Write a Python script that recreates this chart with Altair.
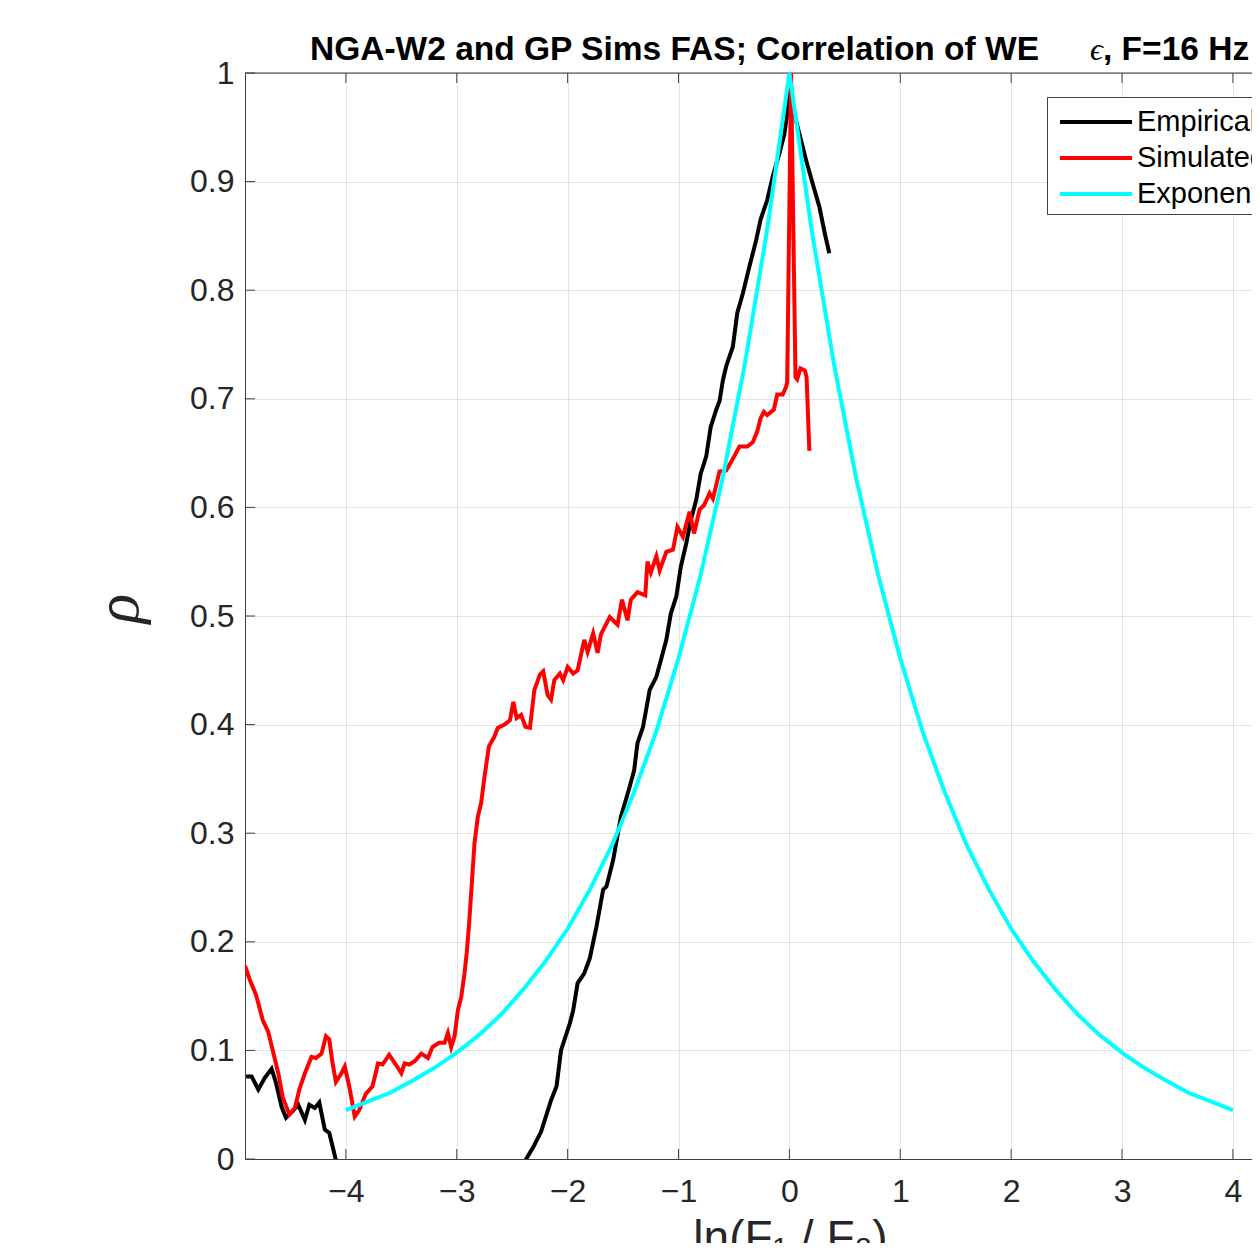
import altair as alt
import pandas as pd

# ---------------- data ----------------
series_names = ["Empirical", "Simulated", "Exponential"]
series_colors = ["#000000", "#ff0000", "#00ffff"]

emp_x = [-4.90, -4.85, -4.79, -4.73, -4.67, -4.63, -4.58, -4.54, -4.48, -4.43,
         -4.37, -4.33, -4.28, -4.24, -4.19, -4.15, -4.09, -4.00, -3.60, -3.20,
         -2.80, -2.50, -2.374, -2.31, -2.24, -2.15, -2.10, -2.06, -1.98, -1.95,
         -1.91, -1.85, -1.80, -1.74, -1.68, -1.65, -1.59, -1.52, -1.44, -1.40,
         -1.37, -1.32, -1.26, -1.20, -1.16, -1.11, -1.07, -1.02, -0.98, -0.93,
         -0.89, -0.84, -0.80, -0.75, -0.71, -0.66, -0.63, -0.60, -0.57, -0.51,
         -0.47, -0.42, -0.36, -0.30, -0.26, -0.20, -0.15, -0.09, -0.045, -0.015,
         0.0, 0.045, 0.09, 0.15, 0.21, 0.27, 0.32, 0.36]
emp_y = [0.076, 0.076, 0.064, 0.075, 0.083, 0.070, 0.048, 0.038, 0.044, 0.050,
         0.036, 0.050, 0.047, 0.052, 0.027, 0.024, -0.001, -0.030, -0.060, -0.050,
         -0.040, -0.020, 0.000, 0.011, 0.025, 0.054, 0.067, 0.100, 0.125, 0.137,
         0.162, 0.171, 0.185, 0.214, 0.248, 0.251, 0.275, 0.315, 0.343, 0.358,
         0.383, 0.398, 0.432, 0.444, 0.459, 0.478, 0.502, 0.518, 0.545, 0.567,
         0.588, 0.607, 0.631, 0.647, 0.674, 0.690, 0.698, 0.717, 0.730, 0.748,
         0.779, 0.797, 0.822, 0.846, 0.865, 0.883, 0.905, 0.926, 0.944, 0.966,
         1.0, 0.962, 0.944, 0.920, 0.898, 0.877, 0.852, 0.834]

sim_x = [-4.91, -4.87, -4.81, -4.75, -4.70, -4.66, -4.61, -4.57, -4.51, -4.46,
         -4.42, -4.37, -4.31, -4.27, -4.22, -4.18, -4.15, -4.12, -4.09, -4.04,
         -4.01, -3.97, -3.92, -3.88, -3.82, -3.76, -3.71, -3.67, -3.61, -3.55,
         -3.50, -3.47, -3.43, -3.38, -3.32, -3.26, -3.22, -3.16, -3.11, -3.08,
         -3.05, -3.02, -2.99, -2.96, -2.93, -2.91, -2.89, -2.87, -2.84, -2.81,
         -2.78, -2.75, -2.71, -2.66, -2.63, -2.57, -2.52, -2.49, -2.46, -2.42,
         -2.38, -2.34, -2.30, -2.25, -2.22, -2.18, -2.15, -2.12, -2.07, -2.04,
         -2.00, -1.95, -1.91, -1.85, -1.82, -1.77, -1.73, -1.70, -1.62, -1.55,
         -1.51, -1.46, -1.43, -1.37, -1.30, -1.28, -1.25, -1.20, -1.17, -1.11,
         -1.05, -1.01, -0.96, -0.90, -0.86, -0.81, -0.77, -0.72, -0.69, -0.63,
         -0.57, -0.53, -0.45, -0.38, -0.33, -0.29, -0.26, -0.23, -0.20, -0.14,
         -0.11, -0.06, -0.03, -0.02, 0.015, 0.055, 0.07, 0.10, 0.14, 0.155, 0.18]
sim_y = [0.178, 0.166, 0.151, 0.128, 0.117, 0.100, 0.079, 0.057, 0.041, 0.047,
         0.064, 0.079, 0.094, 0.093, 0.097, 0.113, 0.110, 0.088, 0.071, 0.079,
         0.085, 0.067, 0.039, 0.045, 0.060, 0.067, 0.088, 0.087, 0.096, 0.087,
         0.079, 0.088, 0.087, 0.090, 0.097, 0.093, 0.103, 0.107, 0.107, 0.116,
         0.103, 0.113, 0.137, 0.149, 0.171, 0.190, 0.215, 0.245, 0.291, 0.315,
         0.328, 0.352, 0.380, 0.389, 0.397, 0.400, 0.404, 0.421, 0.406, 0.409,
         0.398, 0.397, 0.432, 0.446, 0.449, 0.427, 0.423, 0.441, 0.447, 0.441,
         0.453, 0.447, 0.450, 0.478, 0.467, 0.484, 0.466, 0.483, 0.499, 0.492,
         0.515, 0.496, 0.515, 0.522, 0.519, 0.550, 0.540, 0.555, 0.542, 0.559,
         0.561, 0.582, 0.573, 0.596, 0.576, 0.598, 0.602, 0.613, 0.608, 0.633,
         0.634, 0.641, 0.656, 0.656, 0.660, 0.670, 0.682, 0.688, 0.685, 0.690,
         0.704, 0.704, 0.711, 0.715, 1.000, 0.720, 0.718, 0.728, 0.726, 0.720, 0.652]

exp_x = [-4.0, -3.8, -3.6, -3.4, -3.2, -3.0, -2.8, -2.6, -2.4, -2.2, -2.0,
         -1.8, -1.6, -1.4, -1.2, -1.0, -0.8, -0.6, -0.4, -0.2, 0.0,
         0.2, 0.4, 0.6, 0.8, 1.0, 1.2, 1.4, 1.6, 1.8, 2.0,
         2.2, 2.4, 2.6, 2.8, 3.0, 3.2, 3.4, 3.6, 3.8, 4.0]
exp_y = [0.045, 0.053, 0.061, 0.072, 0.084, 0.098, 0.114, 0.133, 0.156, 0.182, 0.212,
         0.248, 0.289, 0.338, 0.394, 0.461, 0.538, 0.628, 0.733, 0.856, 1.000,
         0.856, 0.733, 0.628, 0.538, 0.461, 0.394, 0.338, 0.289, 0.248, 0.212,
         0.182, 0.156, 0.133, 0.114, 0.098, 0.084, 0.072, 0.061, 0.053, 0.045]

x_ticks = [-4, -3, -2, -1, 0, 1, 2, 3, 4]
y_ticks = [0, 0.1, 0.2, 0.3, 0.4, 0.5, 0.6, 0.7, 0.8, 0.9, 1]

title_main = "NGA-W2 and GP Sims FAS; Correlation of WE"
title_eps = "\u03f5"
title_tail = ", F=16 Hz"
x_title = "ln(F\u2081 / F\u2082)"
y_title = "\u03c1"

# ---------------- chart ----------------
PX_PER_UNIT = 110.875
XMIN = -4.91
W, H = 1007, 1086
XMAX = XMIN + W / PX_PER_UNIT
AX = "#404040"
FONT = "Liberation Sans"

x_scale = alt.Scale(domain=[XMIN, XMAX], nice=False, zero=False)
y_scale = alt.Scale(domain=[0, 1], nice=False, zero=False)
color_scale = alt.Scale(domain=series_names, range=series_colors)

x_axis = alt.Axis(values=x_ticks, ticks=False, domainColor=AX, domainWidth=1,
                  grid=True, gridColor="#262626", gridOpacity=0.13, gridWidth=1,
                  labelFont=FONT, labelFontSize=32, labelColor="#262626",
                  labelPadding=17, labelFlush=False,
                  title=x_title, titleFont=FONT, titleFontSize=46,
                  titleFontWeight="normal", titleColor="#262626",
                  titleX=545, titleY=57, titleAlign="center",
                  titleBaseline="top")
y_axis = alt.Axis(values=y_ticks, format="~g", ticks=False, domainColor=AX,
                  domainWidth=1, grid=True, gridColor="#262626", gridOpacity=0.13,
                  gridWidth=1, labelFont=FONT, labelFontSize=32,
                  labelColor="#262626", labelPadding=11, labelFlush=False,
                  title=y_title, titleFont="Liberation Serif", titleFontSize=62,
                  titleFontStyle="italic", titleFontWeight="normal",
                  titleColor="#262626", titleX=-127, titleY=535,
                  titleAngle=270, titleAlign="center", titleBaseline="middle")

legend = alt.Legend(title=None, orient="none", legendX=802, legendY=24,
                    symbolType="M-2,0H2", symbolSize=1296, symbolStrokeWidth=4,
                    symbolOffset=24, labelOffset=21,
                    labelFont=FONT, labelFontSize=29, labelColor="#000000",
                    labelLimit=500, strokeColor=AX,
                    fillColor="white", padding=5, rowPadding=1,
                    direction="vertical")


def series_layer(xs, ys, name):
    df = pd.DataFrame({"x": xs, "rho": ys, "series": [name] * len(xs)})
    return alt.Chart(df).mark_line(strokeWidth=4, clip=True).encode(
        x=alt.X("x:Q", scale=x_scale, axis=x_axis),
        y=alt.Y("rho:Q", scale=y_scale, axis=y_axis),
        color=alt.Color("series:N", scale=color_scale, legend=legend),
    )


tick_len_y = 10 / H
tick_len_x = 10 / PX_PER_UNIT

xt_bottom = pd.DataFrame({"x": x_ticks, "rho": [0] * len(x_ticks),
                          "rho2": [tick_len_y] * len(x_ticks)})
xt_top = pd.DataFrame({"x": x_ticks, "rho": [1] * len(x_ticks),
                       "rho2": [1 - tick_len_y] * len(x_ticks)})
yt_left = pd.DataFrame({"rho": y_ticks, "x": [XMIN] * len(y_ticks),
                        "x2": [XMIN + tick_len_x] * len(y_ticks)})
top_border = pd.DataFrame({"rho": [1], "x": [XMIN], "x2": [XMAX]})


def xtick_layer(df):
    return alt.Chart(df).mark_rule(color=AX, strokeWidth=1).encode(
        x=alt.X("x:Q", scale=x_scale, axis=x_axis),
        y=alt.Y("rho:Q", scale=y_scale, axis=y_axis),
        y2="rho2:Q",
    )


def hrule_layer(df):
    return alt.Chart(df).mark_rule(color=AX, strokeWidth=1).encode(
        x=alt.X("x:Q", scale=x_scale, axis=x_axis),
        x2="x2:Q",
        y=alt.Y("rho:Q", scale=y_scale, axis=y_axis),
    )


title_df = pd.DataFrame({"t": [title_main]})
eps_df = pd.DataFrame({"t": [title_eps]})
tail_df = pd.DataFrame({"t": [title_tail]})

title_layer = alt.Chart(title_df).mark_text(
    font=FONT, fontSize=33.5, fontWeight="bold", color="#000000",
    align="left", baseline="alphabetic").encode(
    text="t:N", x=alt.value(65), y=alt.value(-13))
eps_layer = alt.Chart(eps_df).mark_text(
    font="Liberation Serif", fontSize=32, fontStyle="italic", color="#000000",
    align="left", baseline="alphabetic").encode(
    text="t:N", x=alt.value(845), y=alt.value(-13))
tail_layer = alt.Chart(tail_df).mark_text(
    font=FONT, fontSize=33.5, fontWeight="bold", color="#000000",
    align="left", baseline="alphabetic").encode(
    text="t:N", x=alt.value(858), y=alt.value(-13))

chart = alt.layer(
    xtick_layer(xt_bottom),
    xtick_layer(xt_top),
    hrule_layer(yt_left),
    hrule_layer(top_border),
    series_layer(emp_x, emp_y, "Empirical"),
    series_layer(sim_x, sim_y, "Simulated"),
    series_layer(exp_x, exp_y, "Exponential"),
    title_layer,
    eps_layer,
    tail_layer,
).properties(
    width=W,
    height=H,
    autosize=alt.AutoSizeParams(type="none"),
    padding={"left": 237, "top": 65, "right": 0, "bottom": 84},
).configure_view(
    strokeWidth=0
).configure(background="white")

chart.save("out.html", embed_options={"renderer": "svg", "actions": False})
